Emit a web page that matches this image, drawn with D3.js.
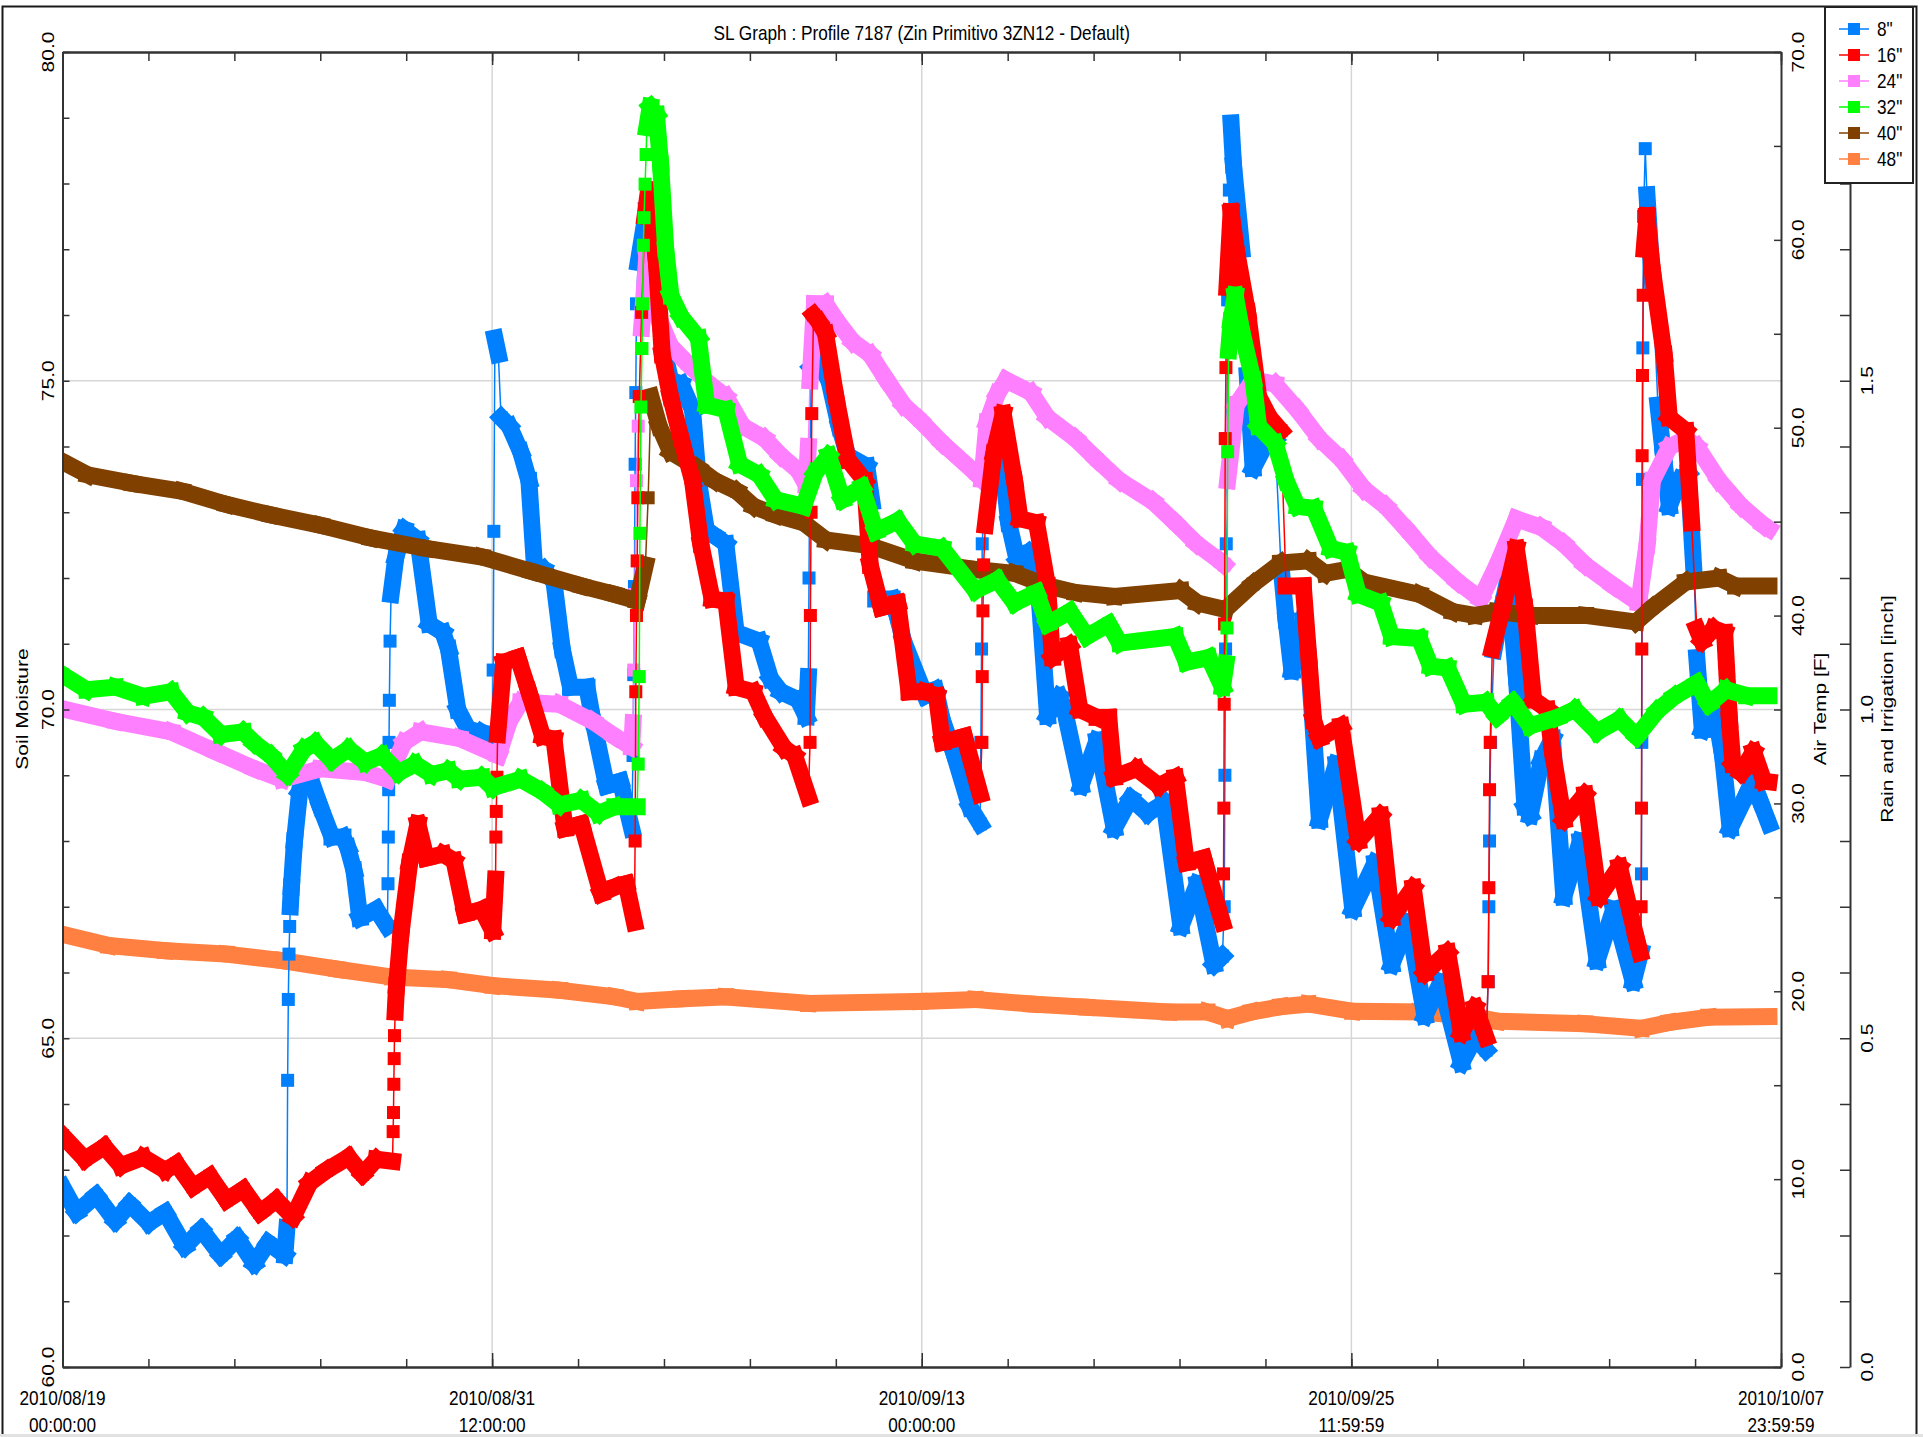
<!DOCTYPE html>
<html lang="en">
<head>
<meta charset="UTF-8">
<title>SL Graph</title>
<style>
    body { margin: 0; background: #fff; }
    text { font-family: "Liberation Sans", Arial, sans-serif; fill: #000; }
</style>
</head>
<body>
<script src="https://cdnjs.cloudflare.com/ajax/libs/d3/7.8.5/d3.min.js" charset="utf-8"></script>
<script>
    // days since 2010/08/19 00:00:00, soil moisture
    var seriesNames = ['8"', '16"', '24"', '32"', '40"', '48"'];
    var seriesColors = ['#0080ff', '#ff0000', '#ff80ff', '#00ff00', '#804000', '#ff8040'];
    var xTickLabels = [
        ['2010/08/19', '00:00:00'],
        ['2010/08/31', '12:00:00'],
        ['2010/09/13', '00:00:00'],
        ['2010/09/25', '11:59:59'],
        ['2010/10/07', '23:59:59']
    ];
    var title = 'SL Graph : Profile 7187 (Zin Primitivo 3ZN12 - Default)';

    var s8 = [
        [0,62.74],[0.41,62.35],[0.98,62.61],[1.54,62.22],[1.95,62.48],[2.51,62.19],[2.99,62.35],[3.56,61.83],[4.04,62.09],[4.61,61.70],[5.09,61.96],[5.58,61.57],[5.98,61.89],[6.47,61.70],
        [6.53,62.12],[6.55,64.36],[6.57,65.59],[6.59,66.28],[6.61,66.70],[6.63,67.0],[6.66,67.3],[6.75,68.0],[6.9,68.75],[7.2,68.97],[7.5,68.52],[7.84,68.06],[8.16,68.06],[8.3,67.9],[8.48,67.55],[8.65,66.83],[9.13,66.96],[9.45,66.7],
        [9.47,67.35],[9.48,68.06],[9.49,68.78],[9.5,69.5],[9.51,70.14],[9.53,71.04],[9.56,71.75],[9.7,72.32],[9.94,72.74],[10.34,72.58],[10.67,71.3],[11.07,71.17],[11.23,70.92],[11.5,70.0],[11.8,69.7],[12.2,69.65],[12.5,69.55],
        [12.53,70.6],[12.55,72.71],[12.58,75.65],[12.68,75.4],[12.76,74.44],[13.0,74.31],[13.33,73.92],[13.57,73.48],[13.73,72.2],[14.0,72.13],[14.3,71.94],[14.54,70.92],[14.78,70.34],[15.26,70.34],[15.43,69.84],[15.83,68.84],[16.23,68.91],[16.56,68.19],
        [16.6,69.3],[16.62,70.53],[16.64,71.87],[16.66,73.73],[16.68,74.82],[16.7,76.17],[16.75,76.8],[17.0,77.6],[17.2,76.5],[17.53,75.4],[17.69,75.01],[18.0,74.95],[18.33,74.56],[18.5,73.48],[18.74,72.71],[18.98,72.64],[19.3,72.52],[19.6,71.17],[20.27,71.04],[20.6,70.47],[20.9,70.27],[21.4,70.15],[21.64,69.89],
        [21.7,70.5],[21.72,72.0],[21.74,73.5],[21.78,75.2],[22.0,75.3],[22.3,75.0],[22.6,74.3],[22.85,73.86],[23.4,73.7],[23.55,73.16],[23.66,71.68],[24.14,71.68],[24.3,71.4],[24.47,71.04],[25.1,70.21],[25.4,70.3],[25.6,69.84],[25.92,69.36],[26.4,68.52],[26.7,68.26],
        [26.72,69.5],[26.74,70.92],[26.76,72.52],[26.85,73.5],[27.1,74.1],[27.25,74.2],[27.53,72.84],[27.78,72.26],[28.1,72.39],[28.42,71.68],[28.66,69.9],[29.0,70.2],[29.15,70.0],[29.63,68.84],[30.1,69.53],[30.6,68.19],[31.08,68.65],[31.57,68.42],[32.05,68.58],[32.54,66.7],[33.02,67.35],[33.5,66.12],[33.75,66.25],
        [33.8,67.0],[33.82,69.0],[33.84,70.92],[33.86,72.52],[33.88,74.12],[33.9,76.23],[33.95,77.9],[34.0,78.92],[34.07,78.28],[34.31,77.0],[34.47,75.08],[34.64,73.67],[34.96,73.99],[35.28,74.12],[35.45,72.2],[35.6,71.36],[35.77,70.59],[36.1,71.36],[36.25,70.8],[36.57,68.32],[37.06,69.17],[37.54,66.96],[38.19,67.67],[38.67,66.12],[39.16,66.76],[39.64,65.34],[40.1,65.85],[40.7,64.62],[41.1,65.01],[41.42,64.82],
        [41.48,65.86],[41.5,67.0],[41.52,68.0],[41.55,69.5],[41.65,70.9],[41.9,71.6],[42.06,72.0],[42.3,70.5],[42.55,68.52],[42.7,68.39],[43.03,69.23],[43.35,69.56],[43.68,67.15],[44.16,68.0],[44.65,66.18],[45.13,66.96],[45.7,65.86],[45.92,66.31],
        [45.94,67.5],[45.95,69.5],[45.96,71.5],[45.97,73.5],[45.98,75.5],[46.0,77.5],[46.05,78.53],[46.1,77.83],[46.26,76.5],[46.42,74.63],[46.58,73.86],[46.75,73.09],[46.9,73.3],[47.07,73.5],[47.3,73.6],[47.47,72.07],[47.55,70.79],[47.71,69.69],[48.04,70.1],[48.3,69.3],[48.52,68.19],[49.0,68.71],[49.17,68.91],[49.4,68.6],[49.65,68.26]
    ];

    var s16 = [
        [0,63.52],[0.65,63.16],[1.22,63.35],[1.70,63.06],[2.35,63.19],[2.99,62.99],[3.32,63.09],[3.80,62.74],[4.29,62.90],[4.77,62.54],[5.26,62.70],[5.74,62.35],[6.22,62.54],[6.71,62.28],[7.19,62.80],[7.68,62.99],[8.32,63.19],[8.73,62.93],[9.13,63.16],[9.6,63.13],
        [9.62,63.58],[9.63,63.87],[9.64,64.3],[9.65,64.69],[9.66,65.04],[9.68,65.4],[9.72,65.8],[9.85,66.6],[10.1,67.67],[10.34,68.26],[10.58,67.74],[11.07,67.8],[11.39,67.7],[11.71,66.89],[12.2,66.96],[12.52,66.63],
        [12.6,67.42],[12.61,68.06],[12.62,68.45],[12.64,68.97],[12.66,69.62],[12.84,70.72],[13.25,70.79],[13.57,70.27],[13.97,69.59],[14.3,69.55],[14.62,68.19],[15.1,68.26],[15.67,67.2],[16.07,67.3],[16.4,67.35],[16.64,66.76],
        [16.66,68.0],[16.68,70.27],[16.7,71.43],[16.72,72.26],[16.74,73.22],[16.78,74.76],[16.85,76.04],[16.95,77.5],[17.05,77.9],[17.28,76.8],[17.45,75.4],[17.69,74.76],[18.0,74.12],[18.33,73.48],[18.57,72.52],[18.9,71.68],[19.3,71.65],[19.6,70.34],[20.1,70.27],[20.43,69.89],[21.0,69.41],[21.3,69.3],[21.7,68.67],
        [21.75,69.5],[21.76,71.43],[21.78,73.0],[21.8,74.5],[21.85,76.0],[22.0,75.9],[22.2,75.72],[22.5,74.76],[22.85,73.8],[23.34,73.48],[23.5,72.2],[23.82,71.55],[24.3,71.62],[24.63,70.27],[25.1,70.27],[25.43,70.21],[25.6,69.5],[26.24,69.59],[26.7,68.71],
        [26.75,69.5],[26.76,70.5],[26.78,71.5],[26.8,72.2],[26.85,72.8],[27.1,73.9],[27.37,74.5],[27.7,73.48],[27.86,72.9],[28.34,72.84],[28.66,71.88],[28.8,70.79],[29.3,70.98],[29.6,70.0],[30.1,69.88],[30.44,69.88],[30.6,68.97],[31.25,69.1],[31.9,68.84],[32.38,68.97],[32.7,67.67],[33.2,67.74],[33.75,66.76],
        [33.78,67.5],[33.79,68.5],[33.8,70.08],[33.81,71.3],[33.83,74.12],[33.85,75.2],[33.88,76.42],[34.0,77.57],[34.15,77.0],[34.48,76.04],[34.8,74.76],[35.12,74.44],[35.45,74.24],[35.6,71.88],[36.1,71.88],[36.4,69.84],[36.57,69.56],[37.2,69.75],[37.7,68.0],[38.35,68.39],[38.67,66.83],[39.3,67.29],[39.64,65.99],[40.3,66.31],[40.7,65.08],[41.1,65.47],[41.42,65.01],
        [41.48,65.86],[41.5,67.29],[41.52,68.78],[41.54,69.5],[41.6,70.92],[41.9,71.55],[42.3,72.45],[42.55,71.55],[42.8,70.15],[43.2,70.0],[43.35,69.36],[43.68,68.32],[44.3,68.71],[44.7,67.15],[45.3,67.61],[45.8,66.5],[45.9,66.3],
        [45.93,67.0],[45.94,68.5],[45.95,70.92],[45.96,73.86],[45.97,75.08],[45.99,76.3],[46.02,77.0],[46.1,77.51],[46.26,76.68],[46.6,75.4],[46.75,74.44],[47.23,74.24],[47.4,72.84],[47.55,71.23],[47.7,71.04],[48.04,71.23],[48.36,71.17],[48.5,69.84],[48.6,69.17],[48.84,69.04],[49.2,69.36],[49.5,68.91],[49.65,68.9]
    ];

    var s24 = [
        [0,70.01],[1.54,69.82],[3.16,69.66],[4.45,69.36],[5.58,69.1],[6.39,68.94],[7.51,69.1],[8.81,69.04],[9.45,68.94],[9.94,69.5],[10.42,69.66],[11.55,69.56],[12.68,69.3],[13.0,69.82],[13.33,70.11],[14.46,70.08],[15.43,69.82],[16.07,69.59],[16.56,69.43],
        [16.6,69.8],[16.62,70.6],[16.65,71.75],[16.7,73.48],[16.75,74.31],[16.85,75.8],[17.0,76.9],[17.28,76.04],[17.69,75.53],[18.17,75.27],[18.82,74.95],[19.3,74.76],[19.79,74.31],[20.43,74.12],[20.9,73.86],[21.4,73.64],[21.64,73.41],
        [21.7,74.0],[21.75,75.0],[21.88,76.17],[22.2,76.17],[22.53,75.91],[23.0,75.59],[23.5,75.4],[23.98,75.01],[24.47,74.63],[24.95,74.4],[25.6,74.05],[26.56,73.6],[26.75,73.5],
        [26.9,74.37],[27.2,74.8],[27.45,75.01],[28.18,74.82],[28.66,74.44],[29.47,74.12],[30.1,73.8],[30.76,73.48],[31.73,73.16],[32.38,72.84],[33.0,72.52],[33.67,72.26],[33.8,72.2],[33.9,73.48],[34.15,74.63],[34.64,75.01],[35.28,74.95],[35.93,74.56],[36.57,74.12],[37.22,73.8],[37.87,73.35],[38.5,73.09],[39.16,72.71],[39.8,72.32],[40.6,71.94],[41.26,71.68],[41.74,72.2],[42.3,72.9],[43.03,72.77],[43.68,72.52],[44.3,72.2],[45.13,71.88],[45.86,71.62],[46.1,72.5],[46.26,73.48],[46.75,73.99],[47.23,74.12],[47.55,74.0],[48.2,73.48],[48.85,73.09],[49.5,72.8],[49.65,72.75]
    ];

    var s32 = [
        [0,70.53],[0.7,70.3],[1.54,70.34],[2.35,70.2],[3.16,70.27],[3.64,69.95],[4.1,69.88],[4.61,69.62],[5.26,69.66],[5.58,69.49],[6.06,69.3],[6.55,69.01],[7.03,69.4],[7.35,69.49],[7.84,69.23],[8.32,69.4],[8.81,69.2],[9.29,69.3],[9.78,69.04],[10.26,69.17],[10.74,69.01],[11.23,69.07],[11.55,68.94],[12.2,68.97],[12.52,68.81],[13.33,68.94],[13.97,68.75],[14.46,68.55],[15.1,68.62],[15.59,68.42],[16.07,68.52],[16.72,68.52],
        [16.75,69.17],[16.78,70.5],[16.8,72.68],[16.83,74.6],[16.86,75.49],[16.88,76.17],[16.9,77.06],[16.92,77.48],[16.95,77.99],[16.98,78.44],[17.0,78.85],[17.1,79.17],[17.28,79.05],[17.4,78.3],[17.55,77.0],[17.7,76.3],[18.0,75.97],[18.5,75.65],[18.74,74.63],[19.3,74.56],[19.7,73.73],[20.27,73.57],[20.75,73.19],[21.56,73.09],[21.9,73.6],[22.29,73.86],[22.69,73.19],[23.26,73.38],[23.66,72.71],[24.3,72.87],[24.79,72.52],[25.6,72.45],[26.56,71.81],[27.2,71.97],[27.7,71.62],[28.34,71.78],[28.66,71.3],[29.31,71.49],[29.8,71.11],[30.44,71.3],[30.76,71.01],[32.38,71.11],[32.7,70.72],[33.35,70.79],[33.75,70.34],[33.85,70.7],
        [33.88,71.24],[33.9,73.92],[33.93,75.46],[34.0,75.91],[34.12,76.3],[34.3,75.78],[34.64,75.01],[34.8,74.31],[35.28,74.05],[35.6,73.48],[35.93,73.09],[36.41,73.06],[36.9,72.45],[37.38,72.39],[37.7,71.75],[38.35,71.62],[38.67,71.11],[39.48,71.08],[39.8,70.66],[40.3,70.63],[40.77,70.08],[41.42,70.11],[41.74,69.89],[42.2,70.11],[42.7,69.75],[43.5,69.88],[44.0,70.0],[44.65,69.66],[45.3,69.85],[45.8,69.59],[46.4,69.98],[46.9,70.2],[47.55,70.4],[47.9,70.08],[48.4,70.3],[49.0,70.21],[49.65,70.21]
    ];

    var s40 = [
        [0,73.77],[0.73,73.57],[2.03,73.44],[3.48,73.32],[4.77,73.12],[6.06,72.96],[7.52,72.8],[8.97,72.61],[10.58,72.45],[12.2,72.32],[13.65,72.1],[15.1,71.88],[16.07,71.75],[16.72,71.65],[16.96,72.2],[17.04,73.22],[17.12,74.76],[17.36,74.31],[17.69,73.92],[18.49,73.67],[18.98,73.48],[19.62,73.32],[20.11,73.09],[20.75,72.96],[21.56,72.84],[22.21,72.58],[23.5,72.49],[24.79,72.26],[26.56,72.13],[27.7,72.07],[28.66,71.88],[29.47,71.78],[30.6,71.72],[32.54,71.81],[33.02,71.62],[33.83,71.52],[34.64,71.91],[35.45,72.23],[36.25,72.26],[36.74,72.07],[37.38,72.13],[37.87,71.94],[39.48,71.75],[40.45,71.49],[41.1,71.43],[41.74,71.49],[42.71,71.43],[44.32,71.43],[45.78,71.33],[46.26,71.55],[47.23,71.94],[48.2,72.0],[48.68,71.88],[49.65,71.88]
    ];

    var s48 = [
        [0,66.58],[1.35,66.41],[3.0,66.33],[4.77,66.28],[6.39,66.18],[8.0,66.05],[9.61,65.93],[11.23,65.89],[12.52,65.8],[14.46,65.73],[16.07,65.63],[16.72,65.56],[18.0,65.6],[19.3,65.63],[21.7,65.53],[24.95,65.56],[26.56,65.59],[28.18,65.52],[29.8,65.47],[32.2,65.4],[33.3,65.4],[33.9,65.3],[34.6,65.4],[35.45,65.48],[36.25,65.52],[37.54,65.41],[39.48,65.4],[41.1,65.33],[41.74,65.26],[44.3,65.22],[45.94,65.15],[46.75,65.24],[47.9,65.32],[49.65,65.33]
    ];

    var seriesData = [s8, s16, s24, s32, s40, s48];
    var drawOrder = [5, 0, 2, 4, 1, 3];

    var W = 1923, H = 1437;
    var plotLeft = 62.5, plotRight = 1781, plotTop = 52, plotBottom = 1367;
    var rainAxisX = 1850;
    var fontSize = 21, squeeze = 0.82;   // text in the original is tall and narrow

    var x = d3.scaleLinear().domain([0, 50]).range([plotLeft, plotRight]);
    var y = d3.scaleLinear().domain([60, 80]).range([plotBottom, plotTop]);
    var yTemp = d3.scaleLinear().domain([0, 70]).range([plotBottom, plotTop]);
    var yRain = d3.scaleLinear().domain([0, 2]).range([plotBottom, plotTop]);
    var fmt = d3.format('.1f');

    var svg = d3.select('body').append('svg')
            .attr('width', W)
            .attr('height', H);

    svg.append('rect').attr('width', W).attr('height', H).attr('fill', '#fff');

    // outer frame
    svg.append('rect')
            .attr('x', 2.5).attr('y', 6.5)
            .attr('width', 1914).attr('height', 1450)
            .attr('fill', 'none').attr('stroke', '#1a1a1a').attr('stroke-width', 2);
    svg.append('line')
            .attr('x1', 0).attr('x2', W).attr('y1', 1435.5).attr('y2', 1435.5)
            .attr('stroke', '#e2e2e2').attr('stroke-width', 3);

    // grid
    var grid = svg.append('g').attr('stroke', '#d6d6d6').attr('stroke-width', 1.5);
    grid.selectAll('line.gx').data([12.5, 25, 37.5]).enter().append('line')
            .attr('x1', function (d) { return x(d); }).attr('x2', function (d) { return x(d); })
            .attr('y1', plotTop).attr('y2', plotBottom);
    grid.selectAll('line.gy').data([65, 70, 75]).enter().append('line')
            .attr('x1', plotLeft).attr('x2', plotRight)
            .attr('y1', function (d) { return y(d); }).attr('y2', function (d) { return y(d); });

    // series
    svg.append('clipPath').attr('id', 'clip')
            .append('rect').attr('x', plotLeft).attr('y', plotTop)
            .attr('width', plotRight - plotLeft).attr('height', plotBottom - plotTop);
    var plot = svg.append('g').attr('clip-path', 'url(#clip)');

    drawOrder.forEach(function (k) {
        var color = seriesColors[k];
        var pts = seriesData[k].map(function (d) { return [x(d[0]), y(d[1])]; });
        var g = plot.append('g');

        g.append('path')
                .attr('d', d3.line()(pts))
                .attr('fill', 'none')
                .attr('stroke', color)
                .attr('stroke-width', 1.5);

        // dense readings overlap into a band, fast jumps stay a thin line with squares
        var segs = [];
        for (var i = 1; i < pts.length; i++) {
            var dx = pts[i][0] - pts[i - 1][0];
            var dy = Math.abs(pts[i][1] - pts[i - 1][1]);
            if (!(dy > 14 && dy > 20 * dx)) segs.push([pts[i - 1], pts[i]]);
        }
        g.selectAll('line').data(segs).enter().append('line')
                .attr('x1', function (s) { return s[0][0]; })
                .attr('y1', function (s) { return s[0][1]; })
                .attr('x2', function (s) { return s[1][0]; })
                .attr('y2', function (s) { return s[1][1]; })
                .attr('stroke', color)
                .attr('stroke-width', 17)
                .attr('stroke-linecap', 'square');

        g.selectAll('rect').data(pts).enter().append('rect')
                .attr('x', function (p) { return p[0] - 6.5; })
                .attr('y', function (p) { return p[1] - 6.5; })
                .attr('width', 13).attr('height', 13)
                .attr('fill', color);
    });

    // axes
    function styleAxis(g) {
        g.selectAll('path.domain').attr('stroke', '#333').attr('stroke-width', 2);
        g.selectAll('.tick line').attr('stroke', '#333').attr('stroke-width', 1.5);
        g.selectAll('.tick text').remove();
    }
    var minorX = d3.range(0, 50.001, 2.5);
    var majorX = [0, 12.5, 25, 37.5, 50];

    svg.append('g').attr('transform', 'translate(0,' + plotTop + ')')
            .call(d3.axisBottom(x).tickValues(minorX).tickSize(9).tickSizeOuter(0)).call(styleAxis);
    svg.append('g').attr('transform', 'translate(0,' + plotTop + ')')
            .call(d3.axisBottom(x).tickValues(majorX).tickSize(13).tickSizeOuter(0)).call(styleAxis);
    svg.append('g').attr('transform', 'translate(0,' + plotBottom + ')')
            .call(d3.axisTop(x).tickValues(minorX).tickSize(8).tickSizeOuter(0)).call(styleAxis);
    svg.append('g').attr('transform', 'translate(0,' + plotBottom + ')')
            .call(d3.axisTop(x).tickValues(majorX).tickSize(14).tickSizeOuter(0)).call(styleAxis);

    svg.append('g').attr('transform', 'translate(' + plotLeft + ',0)')
            .call(d3.axisRight(y).tickValues(d3.range(60, 80.001, 1)).tickSize(7).tickSizeOuter(0)).call(styleAxis);
    svg.append('g').attr('transform', 'translate(' + plotRight + ',0)')
            .call(d3.axisLeft(yTemp).tickValues(d3.range(0, 70.001, 5)).tickSize(7).tickSizeOuter(0)).call(styleAxis);
    svg.append('g').attr('transform', 'translate(' + rainAxisX + ',0)')
            .call(d3.axisLeft(yRain).tickValues(d3.range(0, 2.001, 0.1)).tickSize(10).tickSizeOuter(0)).call(styleAxis);

    // text helpers: horizontal and rotated, both narrowed across the glyphs
    function hText(px, py, txt, anchor) {
        return svg.append('text')
                .attr('transform', 'translate(' + px + ',' + py + ') scale(' + squeeze + ',1)')
                .attr('text-anchor', anchor || 'middle')
                .attr('font-size', fontSize)
                .text(txt);
    }
    function vText(px, py, txt) {
        return svg.append('text')
                .attr('transform', 'translate(' + px + ',' + py + ') scale(' + squeeze + ',1) rotate(-90)')
                .attr('text-anchor', 'middle')
                .attr('font-size', fontSize)
                .text(txt);
    }
    d3.range(60, 80.001, 5).forEach(function (v) { vText(54, y(v), fmt(v)); });
    d3.range(0, 70.001, 10).forEach(function (v) { vText(1804, yTemp(v), fmt(v)); });
    d3.range(0, 2.001, 0.5).forEach(function (v) { vText(1873, yRain(v), fmt(v)); });
    vText(28, 709, 'Soil Moisture');
    vText(1826, 709, 'Air Temp [F]');
    vText(1893, 709, 'Rain and Irrigation [inch]');

    xTickLabels.forEach(function (d, i) {
        hText(x(majorX[i]), 1405, d[0]);
        hText(x(majorX[i]), 1432, d[1]);
    });

    hText((plotLeft + plotRight) / 2, 40, title);

    // legend
    var legend = svg.append('g');
    legend.append('rect')
            .attr('x', 1825).attr('y', 7).attr('width', 88).attr('height', 176)
            .attr('fill', '#fff').attr('stroke', '#222').attr('stroke-width', 2);
    seriesNames.forEach(function (name, i) {
        var ly = 29 + i * 26;
        legend.append('line')
                .attr('x1', 1839).attr('x2', 1869).attr('y1', ly).attr('y2', ly)
                .attr('stroke', seriesColors[i]).attr('stroke-width', 1.5);
        legend.append('rect')
                .attr('x', 1848).attr('y', ly - 6).attr('width', 12).attr('height', 12)
                .attr('fill', seriesColors[i]);
        legend.append('text')
                .attr('transform', 'translate(1877,' + (ly + 7) + ') scale(' + squeeze + ',1)')
                .attr('font-size', fontSize)
                .text(name);
    });
</script>
</body>
</html>
